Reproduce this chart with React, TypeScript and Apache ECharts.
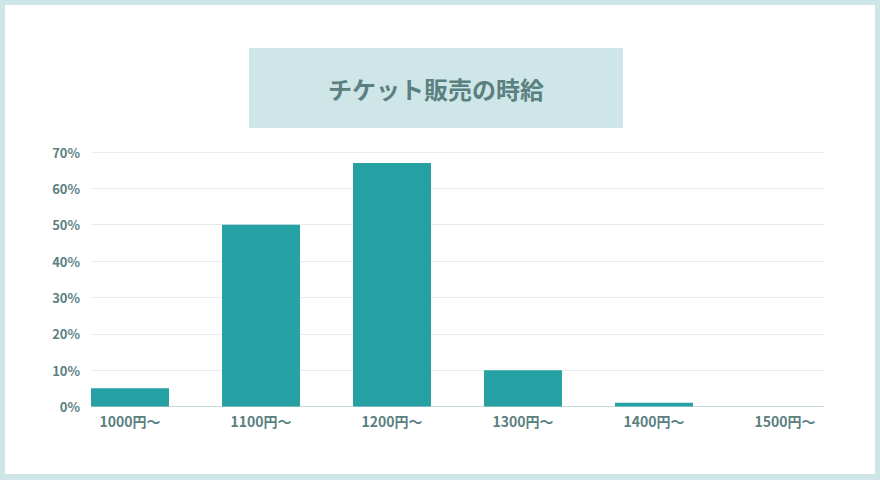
import { useEffect, useRef } from "react";
import * as echarts from "echarts";

// 時給帯ごとの割合 (%)
const CATEGORIES = ["1000円〜", "1100円〜", "1200円〜", "1300円〜", "1400円〜", "1500円〜"];
const SHARES = [5, 50, 67, 10, 1, 0];
const TITLE = "チケット販売の時給";

const FRAME = "#cfe6e8";
const BAR = "#25a0a3";
const INK = "#5a8080";
const FONT = "'Noto Sans CJK JP', 'Noto Sans', sans-serif";

export default function App() {
  const ref = useRef<HTMLDivElement>(null);

  useEffect(() => {
    if (!ref.current) return;
    const inst = echarts.init(ref.current, undefined, { renderer: "svg" });

    // grid 0: 目盛線と y ラベル (線は最初の棒の左端〜最後の棒の右端)
    // grid 1: 棒と x ラベル (カテゴリ幅 131px)
    const top = 152;
    const bottom = 480 - 406.5;

    inst.setOption({
      animation: false,
      backgroundColor: "transparent",
      textStyle: { fontFamily: FONT },
      graphic: [
        { type: "rect", left: 249, top: 48, shape: { width: 374, height: 80 }, style: { fill: FRAME }, z: -5 },
        {
          type: "text", x: 436, y: 88,
          style: {
            text: TITLE, fill: INK, font: `bold 24px ${FONT}`,
            textAlign: "center", textVerticalAlign: "middle",
          },
        },
      ],
      grid: [
        { left: 91, right: 56, top, bottom },
        { left: 64.5, right: 880 - 850.5, top, bottom },
      ],
      xAxis: [
        { type: "value", gridIndex: 0, show: false },
        {
          type: "category", gridIndex: 1, data: CATEGORIES,
          axisLine: { show: false }, axisTick: { show: false },
          axisLabel: { color: INK, fontSize: 14, fontWeight: "bold", margin: 7, fontFamily: FONT },
        },
      ],
      yAxis: [
        {
          type: "value", gridIndex: 0, min: 0, max: 70, interval: 10,
          axisLine: { show: false }, axisTick: { show: false },
          axisLabel: {
            color: INK, fontSize: 13, fontWeight: "bold", margin: 11, fontFamily: FONT,
            formatter: (v: number) => `${v}%`,
          },
          splitLine: {
            lineStyle: {
              color: ["#c8d9d9", "#e3ecec", "#e3ecec", "#e3ecec", "#e3ecec", "#e3ecec", "#e3ecec", "#e8efef"],
              width: 1,
            },
          },
        },
        { type: "value", gridIndex: 1, min: 0, max: 70, show: false },
      ],
      series: [
        {
          type: "bar", xAxisIndex: 1, yAxisIndex: 1, data: SHARES,
          barWidth: "59.5%", itemStyle: { color: BAR }, z: 3,
        },
      ],
    });

    return () => inst.dispose();
  }, []);

  return (
    <div style={{ position: "absolute", left: 0, top: 0, width: 880, height: 480, background: FRAME }}>
      <div style={{ position: "absolute", left: 5, top: 5, width: 870, height: 469, background: "#fff" }} />
      <div ref={ref} style={{ position: "absolute", left: 0, top: 0, width: 880, height: 480 }} />
    </div>
  );
}
